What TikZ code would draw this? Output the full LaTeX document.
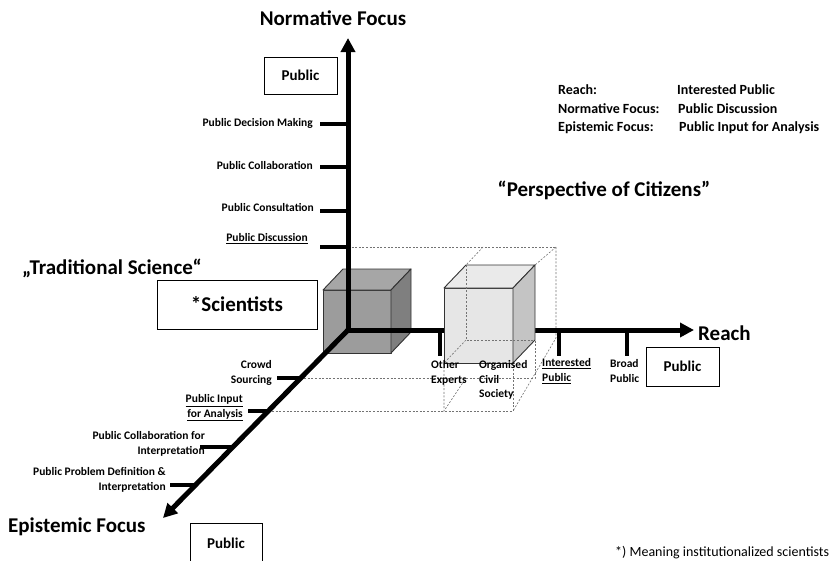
\documentclass[tikz,border=0pt]{standalone}
\usepackage{fontspec}
\setmainfont{Carlito}
\usetikzlibrary{arrows.meta}
\definecolor{dfront}{HTML}{9C9C9C}
\definecolor{dtop}{HTML}{A6A6A6}
\definecolor{dside}{HTML}{7F7F7F}
\definecolor{lfront}{HTML}{E6E6E6}
\definecolor{ltop}{HTML}{EAEAEA}
\definecolor{lside}{HTML}{C4C4C4}
\begin{document}
\begin{tikzpicture}[x=1pt,y=-1pt,
  axis/.style={line width=5pt,-{Triangle[length=14pt,width=14pt]}},
  tickmark/.style={line width=4.5pt},
  hid/.style={black!55, line width=0.6pt, dash pattern=on 2pt off 1.6pt},
  cubeedge/.style={draw=black!80, line width=0.9pt, line join=round},
  lbl/.style={font=\fontsize{11.5}{14.5}\selectfont\bfseries, inner sep=0pt},
  big/.style={font=\fontsize{21}{25}\selectfont\bfseries, inner sep=0pt},
  leg/.style={font=\fontsize{14}{17}\selectfont\bfseries, inner sep=0pt, anchor=west},
  pbox/.style={draw, line width=0.8pt, font=\fontsize{15}{18}\selectfont\bfseries}
]
\useasboundingbox (0,0) rectangle (832,560);

% axis end points
\coordinate (O) at (348,330);
\coordinate (Ntip) at (348,38);
\coordinate (Rtip) at (694,330);
\coordinate (Etip) at (163,518);

% tick points on the normative axis
\coordinate (n1) at (348,124);
\coordinate (n2) at (348,167);
\coordinate (n3) at (348,211);
\coordinate (n4) at (348,247);
% tick points on the reach axis
\coordinate (r1) at (440,330);
\coordinate (r2) at (559,330);
\coordinate (r3) at (627,330);
% tick points on the epistemic axis
\coordinate (e1) at (300.5,378);
\coordinate (e2) at (268.5,411);
\coordinate (e3) at (232.9,447);
\coordinate (e4) at (195.5,485);

% dark cube (scientists)
\filldraw[cubeedge, fill=dfront] (323,290) rectangle (391,353);
\filldraw[cubeedge, fill=dtop] (323,290) -- (343,269) -- (411,269) -- (391,290) -- cycle;
\filldraw[cubeedge, fill=dside] (391,290) -- (411,269) -- (411,332) -- (391,353) -- cycle;

% dashed frame of the citizens' cell
\draw[hid] (n4) -- (556,247);
\draw[hid] (483,247) -- (466,265);
\draw[hid] (556,247) -- (535,265);
\draw[hid] (556,247) -- (556,338) -- (513,411);
\draw[hid] (e1) -- (535,378) -- (535,340);
\draw[hid] (e2) -- (513,411) -- (513,363);
\draw[hid] (444,363) -- (444,411) -- (466,378);

% axes
\draw[axis, line cap=rect] (O) -- (Ntip);
\draw[axis, line cap=rect] (O) -- (Rtip);
\draw[axis] (O) -- (Etip);

% ticks
\draw[tickmark] (320,124) -- (n1);
\draw[tickmark] (320,167) -- (n2);
\draw[tickmark] (320,211) -- (n3);
\draw[tickmark] (320,247) -- (n4);
\draw[tickmark] (r1) -- (440,356);
\draw[tickmark] (r2) -- (559,356);
\draw[tickmark] (r3) -- (627,356);
\draw[tickmark] (277,378) -- (e1);
\draw[tickmark] (248,411) -- (e2);
\draw[tickmark] (200,447) -- (e3);
\draw[tickmark] (170,485) -- (e4);

% light cube (citizens)
\filldraw[cubeedge, fill=lfront] (444,288) rectangle (513,363);
\filldraw[cubeedge, fill=ltop] (444,288) -- (466,265) -- (535,265) -- (513,288) -- cycle;
\filldraw[cubeedge, fill=lside] (513,288) -- (535,265) -- (535,340) -- (513,363) -- cycle;
\draw[hid] (466,265) -- (466,340) -- (535,340);
\draw[hid] (466,340) -- (444,363);

% axis titles
\node[big] (tN) at (333,18) {Normative Focus};
\node[big, anchor=west] (tR) at (698,333) {Reach};
\node[big, anchor=west] (tE) at (8,527) {Epistemic Focus};

% boxes
\node[pbox, minimum width=73pt, minimum height=37pt] (bN) at (300.5,75.5) {Public};
\node[pbox, minimum width=73pt, minimum height=39pt] (bR) at (682.5,366.5) {Public};
\draw[line width=0.8pt] (190,561) -- (190,523) -- (262,523) -- (262,561);
\node[font=\fontsize{15}{18}\selectfont\bfseries, inner sep=0pt] (bE) at (226,543) {Public};
\node[pbox, minimum width=160pt, minimum height=49pt, font=\fontsize{21}{25}\selectfont\bfseries] (bS) at (237,304.5) {*Scientists};

% headings
\node[big, anchor=west] (trad) at (22,268) {„Traditional Science“};
\node[big] (persp) at (604,190) {“Perspective of Citizens”};

% normative labels
\node[lbl, anchor=east] (l1) at (313,123) {Public Decision Making};
\node[lbl, anchor=east] (l2) at (313,165) {Public Collaboration};
\node[lbl, anchor=east] (l3) at (314,207) {Public Consultation};
\node[lbl, anchor=east] (l4) at (308,239) {\underline{Public Discussion}};

% reach labels
\node[lbl, anchor=west, align=left] (m1) at (431,373) {Other\\Experts};
\node[lbl, anchor=west, align=left] (m2) at (479,380) {Organised\\Civil\\Society};
\node[lbl, anchor=west, align=left] (m3) at (542,371) {\underline{Interested}\\\underline{Public}};
\node[lbl, anchor=west, align=left] (m4) at (610,371) {Broad\\Public};

% epistemic labels
\node[lbl, anchor=east, align=right] (k1) at (272,373) {Crowd\\Sourcing};
\node[lbl, anchor=east, align=right] (k2) at (243,408) {\underline{Public Input}\\\underline{for Analysis}};
\node[lbl, anchor=east, align=right] (k3) at (205,444) {Public Collaboration for\\Interpretation};
\node[lbl, anchor=east, align=right] (k4) at (166,480) {Public Problem Definition \&\\Interpretation};

% legend
\node[leg] (g1) at (558,90) {Reach:};
\node[leg] (g2) at (558,109) {Normative Focus:};
\node[leg] (g3) at (558,128) {Epistemic Focus:};
\node[leg] (h1) at (677,90) {Interested Public};
\node[leg] (h2) at (678,109) {Public Discussion};
\node[leg] (h3) at (679,128) {Public Input for Analysis};

% footnote
\node[font=\fontsize{14}{17}\selectfont, inner sep=0pt, anchor=west] (fn) at (615,553) {*) Meaning institutionalized scientists};
\end{tikzpicture}
\end{document}
